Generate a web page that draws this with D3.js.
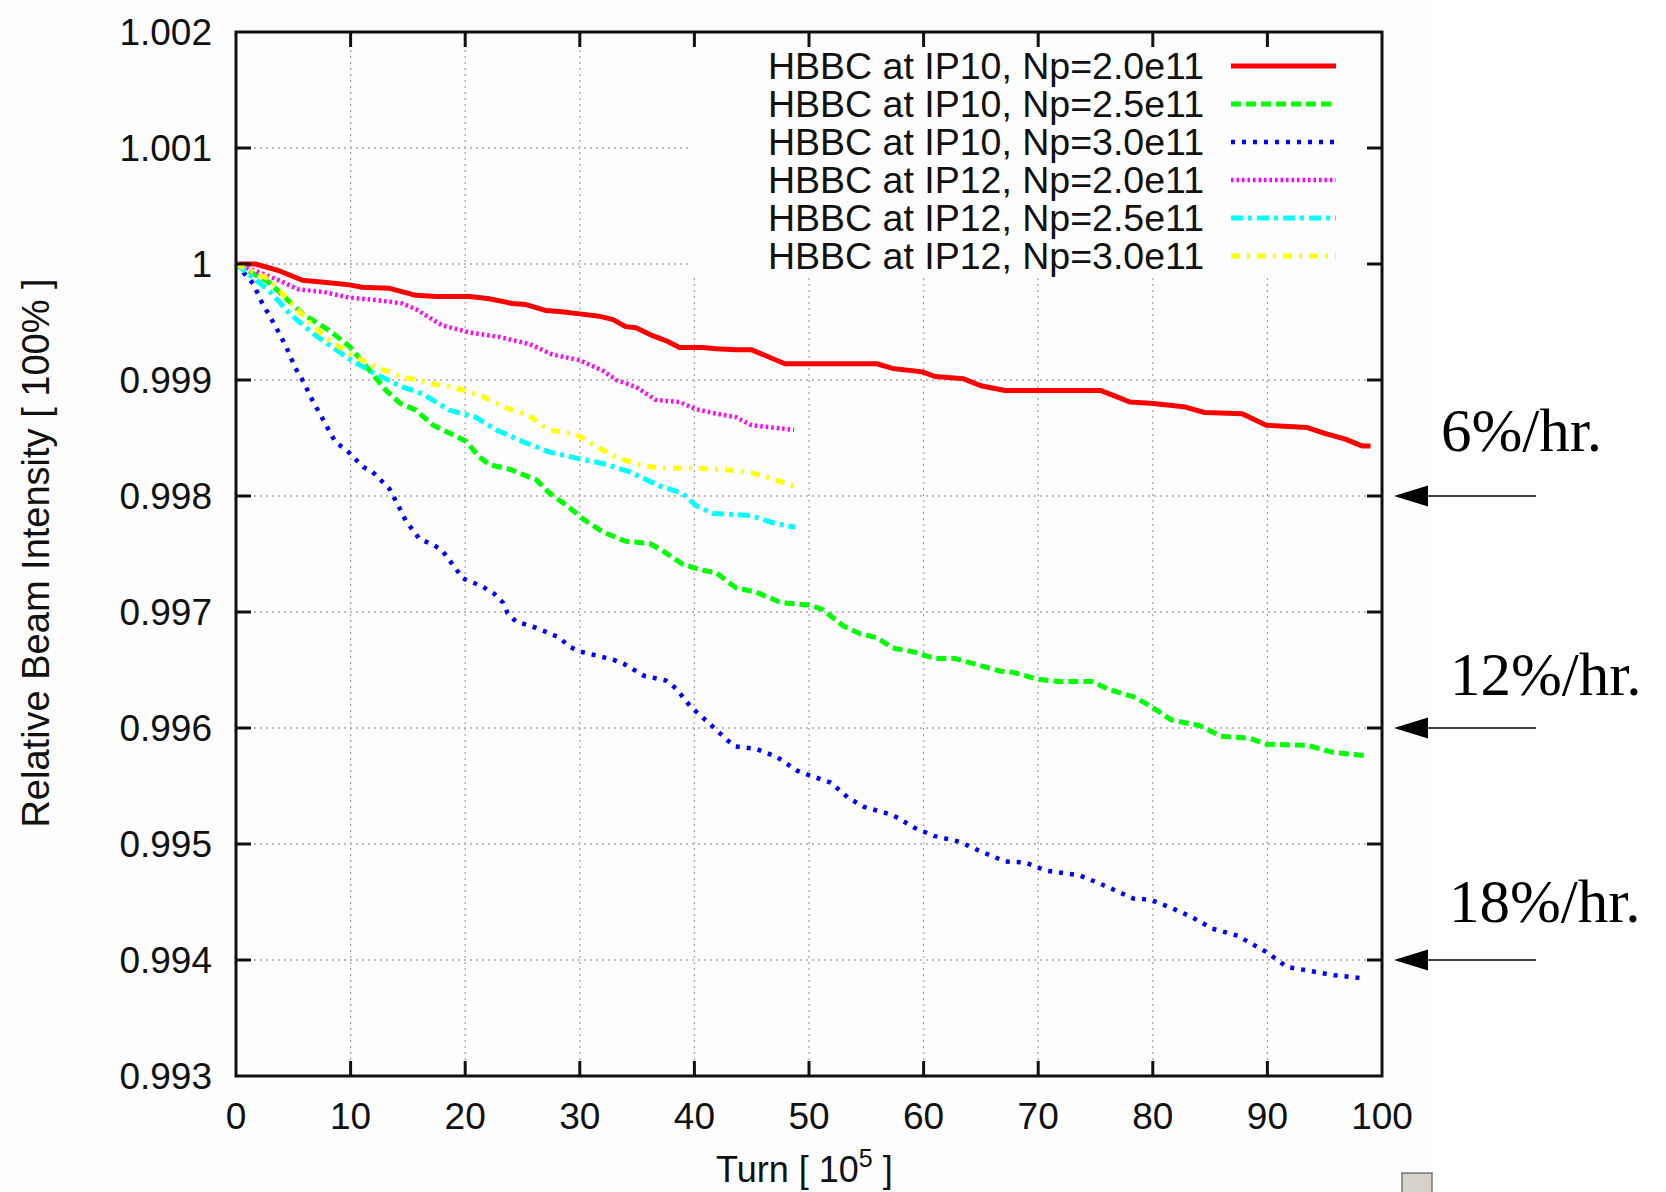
<!DOCTYPE html>
<html>
<head>
<meta charset="utf-8">
<script src="https://cdn.jsdelivr.net/npm/d3@7"></script>
<style>
  body { margin: 0; background: #fff; }
  svg { display: block; }
</style>
</head>
<body>
<div id="chart"></div>
<script>
// values: [turn (1e5), relative intensity]
const red = [[0,1.0],[1.7,1.0],[3.8,0.99994],[5.8,0.99986],[7.9,0.99984],[9.9,0.99982],[11,0.9998],[13.4,0.99979],[15.7,0.99973],[17.5,0.99972],[20.4,0.99972],[22.1,0.9997],[24.1,0.99966],[25.3,0.99965],[27,0.9996],[28.2,0.99959],[30,0.99957],[31.7,0.99955],[32.9,0.99952],[34,0.99946],[34.9,0.99945],[36.4,0.99938],[37.5,0.99934],[38.7,0.99928],[40.7,0.99928],[41.9,0.99927],[43.6,0.99926],[45,0.99926],[47.9,0.99914],[55.9,0.99914],[57.3,0.9991],[59.9,0.99907],[61,0.99903],[63.5,0.99901],[65,0.99895],[67.1,0.99891],[75.4,0.99891],[76.5,0.99887],[78,0.99881],[79.8,0.9988],[82.7,0.99877],[84.5,0.99872],[87.8,0.99871],[89.9,0.99861],[93.5,0.99859],[95,0.99854],[96.8,0.99849],[98.3,0.99843],[99,0.99843]];
const green = [[0,1.0],[2.9,0.99984],[5.8,0.99957],[8.1,0.99943],[9.9,0.99929],[11.6,0.99909],[13.1,0.99891],[14.3,0.9988],[15.7,0.99874],[17.2,0.99861],[18.9,0.99853],[20.1,0.99847],[21.2,0.99834],[22.1,0.99827],[23.9,0.99823],[26.2,0.99814],[27.3,0.99803],[29.1,0.9979],[30.3,0.9978],[32,0.99769],[34,0.99761],[36.1,0.99759],[37.2,0.99753],[39,0.99741],[40.7,0.99736],[41.9,0.99734],[43.6,0.99721],[45.4,0.99717],[47.6,0.99708],[50.1,0.99706],[51.2,0.99702],[53,0.99688],[54.5,0.99681],[55.9,0.99678],[57.3,0.99669],[59.4,0.99665],[60.9,0.9966],[62.7,0.9966],[64.5,0.99655],[66.7,0.99649],[67.8,0.99648],[70,0.99642],[71.8,0.9964],[74.7,0.9964],[76.2,0.99633],[78.3,0.99627],[79.8,0.99619],[81.6,0.99607],[84.1,0.99602],[85.9,0.99593],[88.5,0.99591],[89.9,0.99586],[93.5,0.99585],[95.7,0.99579],[98.6,0.99576]];
const blue = [[0,1.0],[1.5,0.99983],[2.3,0.99966],[2.9,0.99956],[3.9,0.99938],[4.4,0.99928],[5.2,0.9991],[5.8,0.999],[6.7,0.99882],[7.7,0.99864],[8.7,0.99846],[9.6,0.9984],[11.1,0.99825],[11.9,0.99821],[13.4,0.99806],[14.3,0.99789],[14.8,0.99779],[16,0.99763],[17.2,0.99758],[18,0.99753],[19.2,0.99737],[19.8,0.99729],[21.5,0.99722],[22.5,0.99716],[23.3,0.99708],[23.7,0.99699],[24.4,0.99692],[26.3,0.99686],[28.2,0.99678],[29.1,0.9967],[30,0.99666],[32.9,0.99659],[33.9,0.99655],[35.6,0.99645],[37.5,0.99641],[38.4,0.99634],[39.7,0.99618],[41.3,0.99604],[42.8,0.9959],[43.6,0.99584],[45.4,0.99582],[47.2,0.99575],[49,0.99563],[50.1,0.99559],[51.9,0.99553],[53.4,0.9954],[54.8,0.99532],[57.3,0.99525],[59.2,0.99514],[60.9,0.99507],[63.1,0.99502],[64.9,0.99494],[67.1,0.99485],[68.9,0.99484],[70.7,0.99477],[73.6,0.99473],[75.1,0.99467],[76.5,0.99461],[78.3,0.99453],[79.8,0.99452],[81.6,0.99445],[83.4,0.99437],[85.2,0.99427],[87.4,0.99421],[88.8,0.99413],[89.9,0.99407],[91.7,0.99394],[93.5,0.99391],[95.7,0.99387],[98.6,0.99384]];
const magenta = [[0,1.0],[1.7,0.99994],[3.5,0.99987],[5.5,0.99978],[7.6,0.99976],[9.9,0.99971],[12.2,0.99969],[14.5,0.99966],[15.7,0.99961],[17.5,0.9995],[18,0.99947],[20.4,0.99941],[23,0.99937],[25.6,0.99931],[27.6,0.99922],[30,0.99917],[32,0.99908],[33.2,0.999],[34.9,0.99894],[36.6,0.99883],[38.7,0.99881],[40.1,0.99875],[41.9,0.99871],[43.6,0.99868],[45,0.99861],[48.7,0.99857]];
const cyan = [[0,1.0],[2.9,0.99977],[4.7,0.99957],[7,0.99938],[9.9,0.99918],[12.2,0.99905],[14.5,0.99894],[16.3,0.99888],[18.6,0.99874],[20.9,0.99868],[22.7,0.99857],[25,0.99847],[27.3,0.99838],[30,0.99832],[32,0.99828],[34.3,0.99821],[36.9,0.99809],[39,0.99802],[40.1,0.99792],[41.6,0.99785],[43.6,0.99784],[45,0.99783],[46.8,0.99777],[48.8,0.99773]];
const yellow = [[0,1.0],[2.9,0.99987],[5.8,0.99956],[7.9,0.99936],[9.9,0.99923],[12.2,0.99911],[14.5,0.99903],[16.9,0.99897],[18.9,0.99894],[21.5,0.99886],[23.3,0.99877],[25.6,0.99869],[27.3,0.99857],[29.7,0.99853],[31.4,0.99843],[33.2,0.99833],[35.2,0.99827],[36.9,0.99824],[40.1,0.99824],[43.6,0.99822],[45,0.9982],[46.5,0.99816],[48.8,0.99808]];

const labels = ["HBBC at IP10, Np=2.0e11","HBBC at IP10, Np=2.5e11","HBBC at IP10, Np=3.0e11",
                "HBBC at IP12, Np=2.0e11","HBBC at IP12, Np=2.5e11","HBBC at IP12, Np=3.0e11"];
const xTicks = [0,10,20,30,40,50,60,70,80,90,100];
const yTicks = [0.993,0.994,0.995,0.996,0.997,0.998,0.999,1,1.001,1.002];
const rateLabels = ["6%/hr.","12%/hr.","18%/hr."];
const rateLevels = [0.998,0.996,0.994];

const series = [
  {data: red, color: "#ff0000", dash: null, w: 5},
  {data: green, color: "#00ff00", dash: "10,5", w: 5},
  {data: blue, color: "#0000ff", dash: "4,7", w: 4.5},
  {data: magenta, color: "#ff00ff", dash: "2.5,3", w: 4.5},
  {data: cyan, color: "#00ffff", dash: "12,5,4,5", w: 5},
  {data: yellow, color: "#ffff00", dash: "9,7,3,7", w: 5}
];

const W = 1666, H = 1192;
const pLeft = 236, pRight = 1382, pTop = 32, pBottom = 1076;

const svg = d3.select("#chart").append("svg")
  .attr("width", W).attr("height", H);

svg.append("rect").attr("width", 1431).attr("height", H).attr("fill", "#fcfdfc");

const x = d3.scaleLinear().domain([0, 100]).range([pLeft, pRight]);
const y = d3.scaleLinear().domain([0.993, 1.002]).range([pBottom, pTop]);

// grid
const grid = svg.append("g").attr("stroke", "#b3a3a6").attr("stroke-width", 1.3)
  .attr("stroke-dasharray", "2,4");
grid.selectAll("line.gx").data(xTicks.slice(1, -1)).enter().append("line")
  .attr("x1", d => x(d)).attr("x2", d => x(d)).attr("y1", pTop).attr("y2", pBottom);
grid.selectAll("line.gy").data(yTicks.slice(1, -1)).enter().append("line")
  .attr("x1", pLeft).attr("x2", pRight).attr("y1", d => y(d)).attr("y2", d => y(d));

// legend area hides the grid
svg.append("rect").attr("x", 689).attr("y", pTop + 1).attr("width", pRight - 689 - 1)
  .attr("height", 277 - pTop).attr("fill", "#fcfdfc");

// curves
const line = d3.line().x(d => x(d[0])).y(d => y(d[1]));
series.forEach(s => {
  svg.append("path").datum(s.data)
    .attr("d", line)
    .attr("fill", "none")
    .attr("stroke", s.color)
    .attr("stroke-width", s.w)
    .attr("stroke-linejoin", "round")
    .attr("stroke-dasharray", s.dash);
});

// axes, ticks pointing inward, mirrored
const tickLen = 15;
const ax = svg.append("g").attr("stroke", "#111").attr("stroke-width", 3);
xTicks.slice(1, -1).forEach(t => {
  ax.append("line").attr("x1", x(t)).attr("x2", x(t)).attr("y1", pBottom).attr("y2", pBottom - tickLen);
  ax.append("line").attr("x1", x(t)).attr("x2", x(t)).attr("y1", pTop).attr("y2", pTop + tickLen);
});
yTicks.slice(1, -1).forEach(t => {
  ax.append("line").attr("x1", pLeft).attr("x2", pLeft + tickLen).attr("y1", y(t)).attr("y2", y(t));
  ax.append("line").attr("x1", pRight).attr("x2", pRight - tickLen).attr("y1", y(t)).attr("y2", y(t));
});
svg.append("rect").attr("x", pLeft).attr("y", pTop)
  .attr("width", pRight - pLeft).attr("height", pBottom - pTop)
  .attr("fill", "none").attr("stroke", "#111").attr("stroke-width", 3);

const font = "'Liberation Sans', Arial, Helvetica, sans-serif";

svg.selectAll("text.xl").data(xTicks).enter().append("text")
  .attr("x", d => x(d)).attr("y", 1129)
  .attr("text-anchor", "middle")
  .attr("font-family", font).attr("font-size", 37).attr("fill", "#111")
  .text(d => d);

svg.selectAll("text.yl").data(yTicks).enter().append("text")
  .attr("x", 212).attr("y", d => y(d) + 13)
  .attr("text-anchor", "end")
  .attr("font-family", font).attr("font-size", 37).attr("fill", "#111")
  .text(d => d3.format(".3f")(d).replace(/\.?0+$/, ""));

// axis titles
const xt = svg.append("text").attr("x", 716).attr("y", 1182)
  .attr("font-family", font).attr("font-size", 36).attr("fill", "#111");
xt.append("tspan").text("Turn [ 10");
xt.append("tspan").attr("font-size", 25).attr("dy", -15).text("5");
xt.append("tspan").attr("dy", 15).text(" ]");

svg.append("text")
  .attr("transform", "translate(49,553) rotate(-90)")
  .attr("text-anchor", "middle")
  .attr("font-family", font).attr("font-size", 38).attr("fill", "#111")
  .text("Relative Beam Intensity [ 100% ]");

// legend
const rowY = d3.scaleLinear().domain([0, 5]).range([66, 256]);
labels.forEach((lab, i) => {
  svg.append("text").attr("x", 1204).attr("y", rowY(i) + 13)
    .attr("text-anchor", "end")
    .attr("font-family", font).attr("font-size", 37.5).attr("fill", "#111")
    .text(lab);
  svg.append("line").attr("x1", 1231).attr("x2", 1336)
    .attr("y1", rowY(i)).attr("y2", rowY(i))
    .attr("stroke", series[i].color).attr("stroke-width", series[i].w)
    .attr("stroke-dasharray", series[i].dash);
});

// rate annotations with arrows
const serif = "'Liberation Serif', 'Times New Roman', Times, serif";
const textX = [1441, 1450, 1449];
const textY = [451, 695, 922];
rateLabels.forEach((lab, i) => {
  svg.append("text").attr("x", textX[i]).attr("y", textY[i])
    .attr("font-family", serif).attr("font-size", 61).attr("fill", "#000")
    .text(lab);
  const ay = y(rateLevels[i]);
  svg.append("line").attr("x1", 1425).attr("x2", 1536).attr("y1", ay).attr("y2", ay)
    .attr("stroke", "#000").attr("stroke-width", 1.5);
  svg.append("path")
    .attr("d", `M1394,${ay} L1428,${ay - 10.5} L1428,${ay + 10.5} Z`)
    .attr("fill", "#000");
});

// small grey box in bottom corner
svg.append("rect").attr("x", 1402).attr("y", 1173).attr("width", 30).attr("height", 22)
  .attr("fill", "#d6d1ca").attr("stroke", "#777").attr("stroke-width", 1.5);
</script>
</body>
</html>
